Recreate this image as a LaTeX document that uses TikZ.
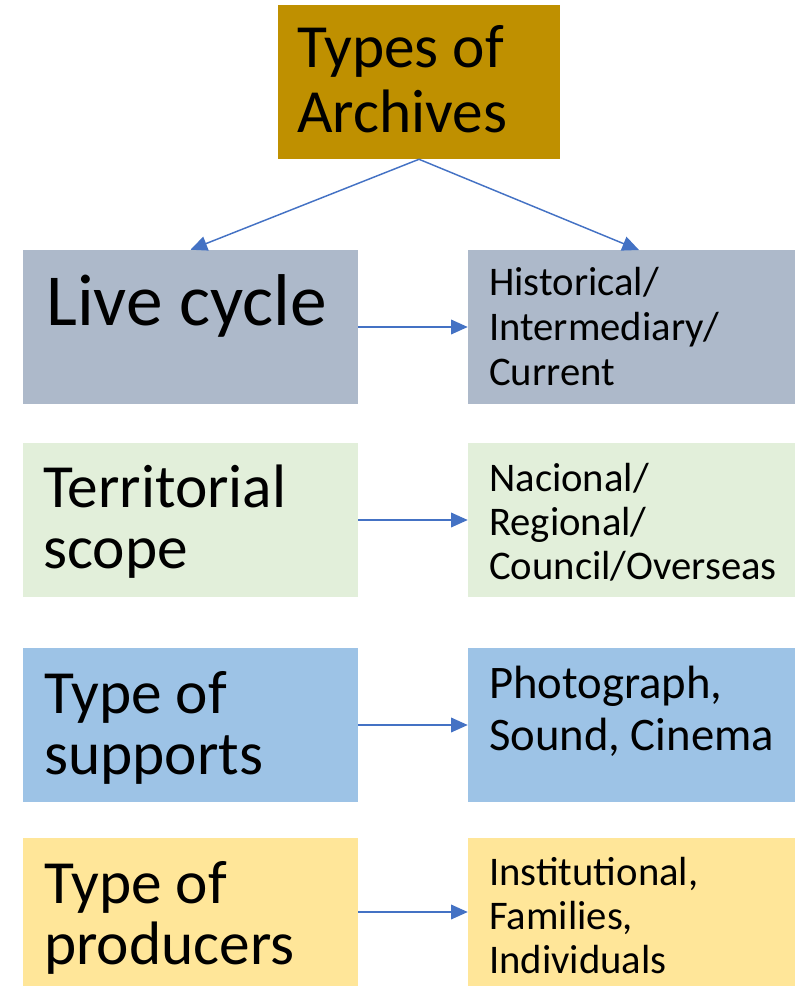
\documentclass[tikz,border=0pt]{standalone}
\usepackage{fontspec}
\setmainfont{Carlito}
\usetikzlibrary{arrows.meta}
\definecolor{gold}{HTML}{BF9000}
\definecolor{greyblue}{HTML}{ADB9CA}
\definecolor{lightgreen}{HTML}{E2EFDA}
\definecolor{skyblue}{HTML}{9DC3E6}
\definecolor{lightyellow}{HTML}{FFE699}
\definecolor{arrowblue}{HTML}{4472C4}
\begin{document}
\begin{tikzpicture}[x=0.75pt,y=-0.75pt,
  box/.style={rectangle, draw=none, inner sep=0pt},
  leftbox/.style={box, minimum width=251.25pt, minimum height=115.5pt},
  rightbox/.style={box, minimum width=245.25pt, minimum height=115.5pt},
  txt/.style={anchor=base west, align=left, inner sep=0pt, text=black},
  bigtxt/.style={txt, font=\fontsize{46}{45.75}\selectfont},
  smalltxt/.style={txt, font=\fontsize{30.5}{33.5}\selectfont},
  conn/.style={draw=arrowblue, line width=1.1pt, -{Triangle[length=12.5pt,width=11pt]}}
]
\useasboundingbox (0,0) rectangle (795,986);
% boxes
\node[box, fill=gold, minimum width=211.5pt, minimum height=115.5pt] (top) at (419,82) {};
\node[leftbox, fill=greyblue] (L1) at (190.5,327) {};
\node[rightbox, fill=greyblue] (R1) at (631.5,327) {};
\node[leftbox, fill=lightgreen] (L2) at (190.5,520) {};
\node[rightbox, fill=lightgreen] (R2) at (631.5,520) {};
\node[leftbox, fill=skyblue] (L3) at (190.5,725) {};
\node[rightbox, fill=skyblue] (R3) at (631.5,725) {};
\node[leftbox, fill=lightyellow, minimum height=111pt] (L4) at (190.5,912) {};
\node[rightbox, fill=lightyellow, minimum height=111pt] (R4) at (631.5,912) {};
% texts (anchored at the baseline of the last line)
\node[txt, font=\fontsize{46}{48.75}\selectfont] (ttop) at (297,132) {Types of\\Archives};
\node[txt, font=\fontsize{55}{60}\selectfont] (tL1) at (46,325) {Live cycle};
\node[smalltxt] (tR1) at (489,385) {Historical/\\Intermediary/\\Current};
\node[bigtxt] (tL2) at (43,568) {Territorial\\scope};
\node[smalltxt, font=\fontsize{30.5}{33}\selectfont] (tR2) at (489,579) {Nacional/\\Regional/\\Council/Overseas};
\node[bigtxt] (tL3) at (44,774) {Type of\\supports};
\node[txt, font=\fontsize{35}{39}\selectfont] (tR3) at (489,750) {Photograph,\\Sound, Cinema};
\node[bigtxt] (tL4) at (44,964) {Type of\\producers};
\node[smalltxt, font=\fontsize{30.5}{33}\selectfont] (tR4) at (489,973) {Institutional,\\Families,\\Individuals};
% connectors
\coordinate (tipR) at (639,250);
\draw[conn] (top.south) -- (L1.north);
\draw[conn] (top.south) -- (tipR);
\draw[conn] (L1.east) -- (R1.west);
\draw[conn] (L2.east) -- (R2.west);
\draw[conn] (L3.east) -- (R3.west);
\draw[conn] (L4.east) -- (R4.west);
\end{tikzpicture}
\end{document}
